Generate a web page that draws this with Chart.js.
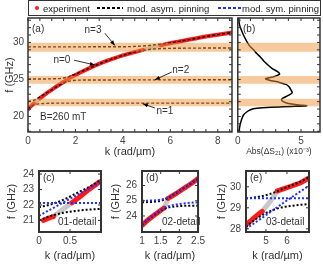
<!DOCTYPE html>
<html lang="en">
<head>
<meta charset="UTF-8">
<title>Magnon dispersion anticrossing</title>
<script src="https://cdn.jsdelivr.net/npm/chart.js"></script>
<style>
    body {
        margin: 0;
        width: 323px;
        height: 264px;
        position: relative;
        overflow: hidden;
        background: #fff;
        font-family: 'Liberation Sans', Arial, sans-serif;
        color: #333;
    }
    canvas { position: absolute; }
    .txt {
        position: absolute;
        font-size: 10px;
        line-height: 12px;
        white-space: nowrap;
        color: #333;
    }
    #legend {
        position: absolute;
        left: 28px; top: 0;
        width: 293px; height: 16px;
        box-sizing: border-box;
        border: 1.6px solid #333;
        background: #fff;
    }
    .lg { position: absolute; font-size: 9.5px; line-height: 11px; top: 2px; white-space: nowrap; color: #222; }
    .dash { position: absolute; top: 6px; height: 1.6px; }
</style>
</head>
<body>
<canvas id="main" width="234" height="160" style="left:0;top:0"></canvas>
<canvas id="absS" width="91" height="160" style="left:232px;top:0"></canvas>
<canvas id="detC" width="104" height="104" style="left:0;top:160px"></canvas>
<canvas id="detD" width="104" height="104" style="left:104px;top:160px"></canvas>
<canvas id="detE" width="115" height="104" style="left:208px;top:160px"></canvas>

<div id="legend">
    <span style="position:absolute;left:6px;top:5px;width:4px;height:4px;border-radius:50%;background:#ff1a1a"></span>
    <span class="lg" style="left:14px">experiment</span>
    <span class="dash" style="left:68px;width:26px;background:repeating-linear-gradient(to right,#000 0 3px,transparent 3px 5px)"></span>
    <span class="lg" style="left:98px">mod. asym. pinning</span>
    <span class="dash" style="left:189px;width:23px;background:repeating-linear-gradient(to right,#1f2eff 0 3px,transparent 3px 5px)"></span>
    <span class="lg" style="left:213px">mod. sym. pinning</span>
</div>

<div class="txt" style="left:32px;top:23px">(a)</div>
<div class="txt" style="left:243px;top:23px">(b)</div>
<div class="txt" style="left:40px;top:111px">B=260 mT</div>
<div class="txt" style="left:43px;top:172px">(c)</div>
<div class="txt" style="left:146px;top:172px">(d)</div>
<div class="txt" style="left:250px;top:172px">(e)</div>
<div class="txt" style="left:58px;top:216px">01-detail</div>
<div class="txt" style="left:162px;top:216px">02-detail</div>
<div class="txt" style="left:266px;top:216px">03-detail</div>

<script>
    Chart.defaults.font.family = "'Liberation Sans', Arial, sans-serif";
    Chart.defaults.font.size = 10;
    Chart.defaults.color = '#444';

    const RED = '#ff1a1a';
    const GRAY = '#c8c8c8';
    const BLUE = '#1f2eff';
    const BAND = 'rgba(240,150,60,0.5)';

    // resonance bands (GHz)
    const bandLo = [21.38, 24.42, 28.75];
    const bandHi = [22.4, 25.45, 29.95];

    // (a) experiment, split where the gaps are (gray)
    const aExpK1 = [0, 0.08, 0.16, 0.25];
    const aExpF1 = [20.95, 21.25, 21.5, 21.75];
    const aGapK1 = [0.25, 0.38, 0.5];
    const aGapF1 = [21.75, 22.1, 22.45];
    const aExpK2 = [0.5, 0.75, 1.0, 1.25, 1.5, 1.6];
    const aExpF2 = [22.45, 23.05, 23.6, 24.15, 24.65, 24.85];
    const aGapK2 = [1.6, 1.72];
    const aGapF2 = [24.85, 25.15];
    const aExpK3 = [1.72, 2, 2.5, 3, 3.5, 4, 4.5, 4.85];
    const aExpF3 = [25.15, 25.6, 26.4, 27.1, 27.7, 28.25, 28.7, 29.0];
    const aGapK3 = [4.85, 5.2, 5.6];
    const aGapF3 = [29.0, 29.3, 29.6];
    const aExpK4 = [5.6, 6, 6.5, 7, 7.5, 8, 8.6];
    const aExpF4 = [29.6, 29.9, 30.2, 30.5, 30.8, 31.05, 31.35];

    // (a) model, asymmetric pinning, four branches
    const aModK1 = [0, 0.1, 0.2, 0.3, 0.45, 0.7, 1.2, 8.6];
    const aModF1 = [20.95, 21.3, 21.5, 21.62, 21.7, 21.76, 21.8, 21.8];
    const aModK2 = [0, 0.2, 0.35, 0.5, 0.75, 1.0, 1.25, 1.45, 1.65, 1.9, 2.4, 8.6];
    const aModF2 = [22.05, 22.15, 22.35, 22.65, 23.1, 23.6, 24.1, 24.45, 24.7, 24.85, 24.92, 24.95];
    const aModK3 = [0, 1.2, 1.5, 1.7, 1.9, 2.2, 2.5, 3, 3.5, 4, 4.5, 4.8, 5.1, 5.5, 6, 8.6];
    const aModF3 = [25.05, 25.1, 25.2, 25.35, 25.6, 26.0, 26.4, 27.1, 27.7, 28.25, 28.7, 28.9, 29.05, 29.15, 29.2, 29.25];
    const aModK4 = [0, 4, 4.6, 5.0, 5.4, 5.8, 6.2, 7, 7.5, 8, 8.6];
    const aModF4 = [29.4, 29.42, 29.47, 29.55, 29.7, 29.85, 30.05, 30.5, 30.8, 31.05, 31.35];

    // (a) mode labels and arrows (data coords)
    const noteText = ['n=3', 'n=0', 'n=2', 'n=1'];
    const noteK = [2.74, 1.43, 6.44, 5.77];
    const noteF = [31.6, 27.6, 26.3, 20.75];
    const arrK0 = [3.24, 1.94, 6.06, 5.35];
    const arrF0 = [31.25, 27.6, 26.0, 21.15];
    const arrK1 = [3.66, 2.82, 5.35, 4.84];
    const arrF1 = [29.6, 26.95, 24.95, 21.7];

    // (b) Abs(dS21) vs f
    const bF = [33.3, 32.5, 31.8, 31.0, 30.5, 30.0, 29.5, 29.0, 28.5, 28.0, 27.5, 27.0, 26.5, 26.0, 25.7, 25.4, 25.1,
                24.9, 24.6, 24.3, 24.0, 23.6, 23.2, 22.8, 22.5, 22.25, 22.0, 21.75, 21.55, 21.45, 21.35, 21.25, 21.1,
                20.9, 20.6, 20.2, 19.6, 19.0, 18.4, 17.9];
    const bAbs = [0.08, 0.12, 0.25, 0.45, 0.6, 0.75, 0.95, 1.25, 1.5, 1.8, 2.05, 2.35, 2.7, 3.2, 3.3, 2.9, 2.2,
                  2.5, 3.3, 3.85, 4.05, 4.2, 4.3, 3.95, 3.6, 3.45, 3.6, 4.0, 4.9, 5.45, 4.2, 2.6, 1.5,
                  1.0, 0.7, 0.45, 0.3, 0.2, 0.13, 0.1];

    // (c) 01-detail
    const cExpK1 = [0.07, 0.12, 0.17, 0.23];
    const cExpF1 = [21.0, 21.08, 21.16, 21.25];
    const cGapK = [0.23, 0.33, 0.43, 0.53];
    const cGapF = [21.25, 21.55, 21.85, 22.14];
    const cExpK2 = [0.53, 0.65, 0.8, 0.98];
    const cExpF2 = [22.14, 22.5, 22.98, 23.5];
    const cAsymK = [0, 0.2, 0.4, 0.6, 0.8, 1.0];
    const cAsymUp = [21.85, 22.05, 22.35, 22.75, 23.15, 23.6];
    const cAsymLo = [21.0, 21.3, 21.5, 21.62, 21.7, 21.75];
    const cSymFlatK = [0, 1];
    const cSymFlatF = [22.12, 22.12];
    const cSymDiagK = [0, 0.25, 0.5, 0.75, 1.0];
    const cSymDiagF = [21.3, 21.85, 22.4, 22.95, 23.5];

    // (d) 02-detail
    const dExpK1 = [1.0, 1.15, 1.3, 1.45, 1.59];
    const dExpF1 = [23.38, 23.72, 24.0, 24.28, 24.52];
    const dGapK = [1.59, 1.7];
    const dGapF = [24.52, 25.15];
    const dExpK2 = [1.7, 1.9, 2.1, 2.3, 2.5];
    const dExpF2 = [25.15, 25.45, 25.78, 26.1, 26.45];
    const dLoK = [1.0, 1.15, 1.3, 1.45, 1.6, 1.8, 2.1, 2.5];
    const dSymLo = [23.42, 23.76, 24.05, 24.32, 24.53, 24.7, 24.82, 24.9];
    const dAsymLo = [23.4, 23.74, 24.02, 24.28, 24.47, 24.6, 24.66, 24.68];
    const dUpK = [1.0, 1.3, 1.5, 1.65, 1.8, 2.0, 2.25, 2.5];
    const dSymUp = [25.0, 25.02, 25.07, 25.17, 25.35, 25.65, 26.05, 26.45];
    const dAsymUp = [24.9, 24.93, 25.0, 25.13, 25.33, 25.64, 26.04, 26.44];

    // (e) 03-detail
    const eExpK1 = [4.05, 4.3, 4.55, 4.82];
    const eExpF1 = [28.19, 28.4, 28.62, 28.83];
    const eGapK = [4.82, 5.2, 5.54];
    const eGapF = [28.83, 29.3, 29.8];
    const eExpK2 = [5.54, 5.9, 6.3, 6.7, 7.05];
    const eExpF2 = [29.8, 29.92, 30.06, 30.22, 30.42];
    const eAsymK = [4.05, 4.5, 5.0, 5.4, 5.8, 6.3, 6.7, 7.05];
    const eAsymUp = [29.45, 29.5, 29.6, 29.73, 29.9, 30.1, 30.27, 30.45];
    const eAsymLo = [28.1, 28.45, 28.75, 28.92, 29.03, 29.1, 29.15, 29.18];
    const eSymFlatK = [4.05, 7.05];
    const eSymFlatF = [29.45, 29.45];
    const eSymDiagK = [4.05, 5, 6, 7.05];
    const eSymDiagF = [28.0, 28.65, 29.35, 30.05];

    // tick positions and labelled ticks
    const aXTicks = [0, 0.5, 1, 1.5, 2, 2.5, 3, 3.5, 4, 4.5, 5, 5.5, 6, 6.5, 7, 7.5, 8, 8.5];
    const aXLabels = [0, 2, 4, 6, 8];
    const fTicks = [18, 19, 20, 21, 22, 23, 24, 25, 26, 27, 28, 29, 30, 31, 32, 33];
    const aYLabels = [20, 25, 30];
    const bXTicks = [0, 1, 2, 3, 4, 5, 6];
    const bXLabels = [0, 5];

    const pts = (ks, fs) => ks.map((k, i) => ({ x: k, y: fs[i] }));

    function line(ks, fs, color, width, dash) {
        return {
            data: pts(ks, fs), borderColor: color, borderWidth: width,
            borderDash: dash || [], fill: false, clip: 0,
            cubicInterpolationMode: 'monotone', borderCapStyle: dash ? 'butt' : 'round'
        };
    }

    function bandSets(x0, x1) {
        const out = [];
        bandLo.forEach((lo, i) => {
            out.push({ data: pts([x0, x1], [lo, lo]), borderWidth: 0, borderColor: 'transparent', fill: false, clip: 0 });
            out.push({ data: pts([x0, x1], [bandHi[i], bandHi[i]]), borderWidth: 0, borderColor: 'transparent',
                       fill: '-1', backgroundColor: BAND, clip: 0 });
        });
        return out;
    }

    function axis(min, max, ticks, labels, size, horiz, title, tsize, tpad, lpad) {
        return {
            type: 'linear', min: min, max: max,
            grid: { display: false, drawTicks: false },
            border: { display: false },
            afterBuildTicks: s => { s.ticks = ticks.map(v => ({ value: v })); },
            afterFit: s => { if (horiz) s.height = size; else s.width = size; },
            ticks: {
                display: labels.length > 0, autoSkip: false, maxRotation: 0, padding: lpad,
                callback: v => labels.includes(v) ? String(v) : ''
            },
            title: {
                display: !!title, text: title, color: '#333', font: { size: tsize },
                padding: horiz ? { top: 0, bottom: tpad } : { top: tpad, bottom: 0 }
            }
        };
    }

    // box round the plot area and inward ticks on all four sides
    const framePlugin = {
        id: 'frame',
        afterDatasetsDraw(chart, args, opts) {
            const { ctx, chartArea: a, scales } = chart;
            const len = 3;
            ctx.save();
            ctx.strokeStyle = '#333';
            ctx.lineWidth = 1;
            ctx.beginPath();
            scales.x.ticks.forEach(t => {
                const px = scales.x.getPixelForValue(t.value);
                ctx.moveTo(px, a.bottom); ctx.lineTo(px, a.bottom - len);
                ctx.moveTo(px, a.top); ctx.lineTo(px, a.top + len);
            });
            scales.y.ticks.forEach(t => {
                const py = scales.y.getPixelForValue(t.value);
                ctx.moveTo(a.left, py); ctx.lineTo(a.left + len, py);
                ctx.moveTo(a.right, py); ctx.lineTo(a.right - len, py);
            });
            ctx.stroke();
            ctx.lineWidth = opts.width || 1.5;
            ctx.strokeRect(a.left, a.top, a.right - a.left, a.bottom - a.top);
            ctx.restore();
        }
    };

    const notesPlugin = {
        id: 'notes',
        afterDatasetsDraw(chart) {
            const { ctx, scales: { x, y } } = chart;
            ctx.save();
            ctx.font = "10px 'Liberation Sans', Arial, sans-serif";
            ctx.fillStyle = '#333';
            ctx.strokeStyle = '#000';
            ctx.textAlign = 'center';
            ctx.textBaseline = 'middle';
            noteText.forEach((t, i) => {
                ctx.fillText(t, x.getPixelForValue(noteK[i]), y.getPixelForValue(noteF[i]));
                const x0 = x.getPixelForValue(arrK0[i]), y0 = y.getPixelForValue(arrF0[i]);
                const x1 = x.getPixelForValue(arrK1[i]), y1 = y.getPixelForValue(arrF1[i]);
                const ang = Math.atan2(y1 - y0, x1 - x0);
                ctx.lineWidth = 0.8;
                ctx.beginPath();
                ctx.moveTo(x0, y0); ctx.lineTo(x1, y1);
                ctx.stroke();
                ctx.beginPath();
                ctx.moveTo(x1, y1);
                ctx.lineTo(x1 - 5 * Math.cos(ang) + 2 * Math.sin(ang), y1 - 5 * Math.sin(ang) - 2 * Math.cos(ang));
                ctx.lineTo(x1 - 5 * Math.cos(ang) - 2 * Math.sin(ang), y1 - 5 * Math.sin(ang) + 2 * Math.cos(ang));
                ctx.closePath();
                ctx.fillStyle = '#000';
                ctx.fill();
                ctx.fillStyle = '#333';
            });
            ctx.restore();
        }
    };

    const base = {
        responsive: false, animation: false, devicePixelRatio: 1,
        elements: { point: { radius: 0 } },
        events: []
    };

    // (a) dispersion
    new Chart(document.getElementById('main'), {
        type: 'line',
        data: {
            datasets: [
                ...bandSets(0, 8.6),
                line(aModK1, aModF1, '#000', 1.4, [3, 2]),
                line(aModK2, aModF2, '#000', 1.4, [3, 2]),
                line(aModK3, aModF3, '#000', 1.4, [3, 2]),
                line(aModK4, aModF4, '#000', 1.4, [3, 2]),
                line(aExpK1, aExpF1, RED, 4),
                line(aExpK2, aExpF2, RED, 4),
                line(aExpK3, aExpF3, RED, 4),
                line(aExpK4, aExpF4, RED, 4),
                line(aGapK1, aGapF1, GRAY, 4),
                line(aGapK2, aGapF2, GRAY, 4),
                line(aGapK3, aGapF3, GRAY, 4)
            ]
        },
        options: {
            ...base,
            layout: { padding: { top: 18, right: 2, left: 0, bottom: 0 }, autoPadding: false },
            plugins: { legend: { display: false }, tooltip: { enabled: false }, frame: { width: 1.5 } },
            scales: {
                x: axis(0, 8.6, aXTicks, aXLabels, 28, true, 'k (rad/µm)', 11, 1.4, 3),
                y: axis(17.9, 33.3, fTicks, aYLabels, 28, false, 'f (GHz)', 11, 2.9, 4)
            }
        },
        plugins: [notesPlugin, framePlugin]
    });

    // (b) Abs(dS21)
    new Chart(document.getElementById('absS'), {
        type: 'line',
        data: {
            datasets: [
                ...bandSets(0, 6.5),
                { ...line(bAbs, bF, '#000', 1.5), cubicInterpolationMode: 'default', tension: 0.3 }
            ]
        },
        options: {
            ...base,
            layout: { padding: { top: 18, right: 3, left: 0, bottom: 0 }, autoPadding: false },
            plugins: { legend: { display: false }, tooltip: { enabled: false }, frame: { width: 1.5 } },
            scales: {
                x: axis(0, 6.5, bXTicks, bXLabels, 28, true, 'Abs(ΔS₂₁) (x10⁻³)', 8.5, 2.9, 3),
                y: axis(17.9, 33.3, fTicks, [], 3, false, '', 10, 0, 0)
            }
        },
        plugins: [framePlugin]
    });

    function detailChart(id, o) {
        return new Chart(document.getElementById(id), {
            type: 'line',
            data: { datasets: o.sets },
            options: {
                ...base,
                layout: { padding: { top: 9, right: o.padRight, left: 0, bottom: 0 }, autoPadding: false },
                plugins: { legend: { display: false }, tooltip: { enabled: false }, frame: { width: 2 } },
                scales: {
                    x: axis(o.xMin, o.xMax, o.xTicks, o.xTicks, 32, true, 'k (rad/µm)', 11, 1.4, 3),
                    y: axis(o.yMin, o.yMax, o.yTicks, o.yTicks, o.yWidth, false, 'f (GHz)', 11, o.titlePad, 5)
                }
            },
            plugins: [framePlugin]
        });
    }

    detailChart('detC', {
        xMin: 0, xMax: 1, xTicks: [0, 0.5], yMin: 20.25, yMax: 24.2, yTicks: [21, 22, 23, 24],
        yWidth: 39, padRight: 3, titlePad: 5.1,
        sets: [
            line(cSymFlatK, cSymFlatF, BLUE, 2, [2, 2]),
            line(cSymDiagK, cSymDiagF, BLUE, 2, [2, 2]),
            line(cAsymK, cAsymUp, '#000', 2, [2, 2]),
            line(cAsymK, cAsymLo, '#000', 2, [2, 2]),
            line(cExpK1, cExpF1, RED, 5),
            line(cExpK2, cExpF2, RED, 5),
            line(cGapK, cGapF, GRAY, 5)
        ]
    });

    detailChart('detD', {
        xMin: 1, xMax: 2.5, xTicks: [1, 1.5, 2, 2.5], yMin: 22.95, yMax: 26.95, yTicks: [24, 25, 26],
        yWidth: 38, padRight: 3, titlePad: 5.4,
        sets: [
            line(dLoK, dSymLo, BLUE, 2, [2, 2]),
            line(dUpK, dSymUp, BLUE, 2, [2, 2]),
            line(dLoK, dAsymLo, '#000', 2, [2, 2]),
            line(dUpK, dAsymUp, '#000', 2, [2, 2]),
            line(dExpK1, dExpF1, RED, 5),
            line(dExpK2, dExpF2, RED, 5),
            line(dGapK, dGapF, GRAY, 5)
        ]
    });

    detailChart('detE', {
        xMin: 4.05, xMax: 7.05, xTicks: [5, 6], yMin: 27.85, yMax: 30.75, yTicks: [28, 29, 30],
        yWidth: 38, padRight: 14, titlePad: 7.4,
        sets: [
            line(eSymFlatK, eSymFlatF, BLUE, 2, [2, 2]),
            line(eSymDiagK, eSymDiagF, BLUE, 2, [2, 2]),
            line(eAsymK, eAsymUp, '#000', 2, [2, 2]),
            line(eAsymK, eAsymLo, '#000', 2, [2, 2]),
            line(eExpK1, eExpF1, RED, 5),
            line(eExpK2, eExpF2, RED, 5),
            line(eGapK, eGapF, GRAY, 5)
        ]
    });
</script>
</body>
</html>
